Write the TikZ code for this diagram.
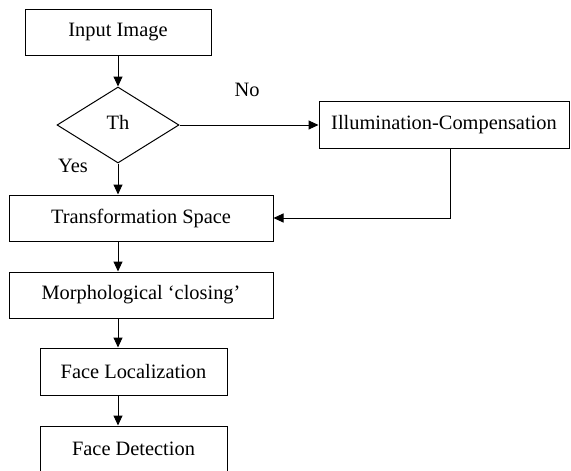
\documentclass[tikz,border=0pt]{standalone}
\usepackage{fontspec}
\setmainfont{Liberation Serif}
\usetikzlibrary{shapes.geometric,arrows.meta}
\begin{document}
\begin{tikzpicture}[x=1pt,y=-1pt,
  every node/.style={font=\fontsize{20.4pt}{24pt}\selectfont, text=black},
  box/.style={draw, line width=1pt, inner sep=0pt, rectangle},
  dia/.style={draw, line width=1pt, diamond, inner sep=0pt, aspect=1.6},
  lbl/.style={inner sep=0pt},
  arr/.style={draw, line width=1pt, -{Triangle[length=10pt,width=9pt]}}]
\useasboundingbox (0,0) rectangle (571,471);
\node[box, minimum width=186pt, minimum height=46pt] (in) at (118,32) {Input Image};
\node[dia, minimum width=122pt, minimum height=76pt] (th) at (118,125) {};
\node[lbl] (thl) at (118,122) {Th};
\node[box, minimum width=250pt, minimum height=47pt] (ill) at (444,125) {Illumination-Compensation};
\node[box, minimum width=264pt, minimum height=46pt] (ts) at (141,218) {Transformation Space};
\node[box, minimum width=264pt, minimum height=46pt] (mo) at (141,295) {Morphological `closing'};
\node[box, minimum width=187pt, minimum height=47pt] (fl) at (133.5,371.5) {Face Localization};
\node[box, minimum width=187pt, minimum height=46pt] (fd) at (133.5,449) {Face Detection};
\node[lbl] (no) at (247,90) {No};
\node[lbl] (yes) at (73,166) {Yes};
\draw[arr] (in.south) -- (th.north);
\draw[arr] (th.east) -- (th.east -| ill.west);
\draw[arr] (th.south) -- (th.south |- ts.north);
\draw[arr] ([xshift=6pt]ill.south) |- (ts.east);
\draw[arr] (th |- ts.south) -- (th |- mo.north);
\draw[arr] (th |- mo.south) -- (th |- fl.north);
\draw[arr] (th |- fl.south) -- (th |- fd.north);
\end{tikzpicture}
\end{document}
